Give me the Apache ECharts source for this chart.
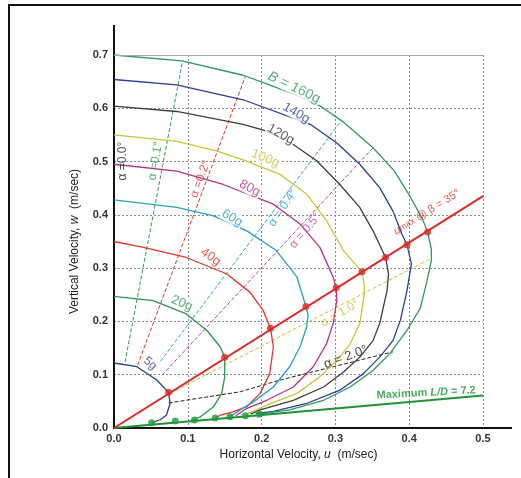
<!DOCTYPE html>
<html>
<head>
<meta charset="utf-8">
<script src="https://cdn.jsdelivr.net/npm/echarts@6/dist/echarts.min.js"></script>
<style>
  html, body { margin: 0; padding: 0; background: #fff; }
  #chart { width: 521px; height: 478px; }
</style>
</head>
<body>
<div id="chart"></div>
<script>
// ballast curves, [u, w] in m/sec
const b5 = [[0, 0.122], [0.031, 0.115], [0.058, 0.090], [0.071, 0.071], [0.074, 0.067], [0.076, 0.046], [0.071, 0.024], [0.062, 0.015], [0.051, 0.010]];
const b20 = [[0, 0.247], [0.053, 0.239], [0.098, 0.214], [0.126, 0.183], [0.144, 0.152], [0.150, 0.133], [0.150, 0.096], [0.146, 0.065], [0.135, 0.040], [0.117, 0.021], [0.107, 0.015]];
const b40 = [[0, 0.350], [0.040, 0.339], [0.098, 0.320], [0.153, 0.289], [0.184, 0.255], [0.202, 0.221], [0.212, 0.187], [0.216, 0.152], [0.211, 0.102], [0.198, 0.065], [0.180, 0.040], [0.160, 0.030], [0.144, 0.024], [0.137, 0.019]];
const b60 = [[0, 0.428], [0.085, 0.414], [0.135, 0.398], [0.180, 0.370], [0.220, 0.333], [0.248, 0.283], [0.260, 0.228], [0.263, 0.212], [0.261, 0.189], [0.252, 0.152], [0.238, 0.115], [0.216, 0.077], [0.189, 0.049], [0.171, 0.034], [0.157, 0.021]];
const b80 = [[0, 0.495], [0.085, 0.482], [0.148, 0.457], [0.216, 0.420], [0.252, 0.383], [0.279, 0.339], [0.297, 0.283], [0.301, 0.263], [0.302, 0.240], [0.297, 0.196], [0.288, 0.158], [0.270, 0.115], [0.243, 0.077], [0.207, 0.052], [0.180, 0.037], [0.165, 0.023]];
const b100 = [[0, 0.550], [0.085, 0.538], [0.139, 0.520], [0.175, 0.503], [0.225, 0.476], [0.261, 0.439], [0.288, 0.389], [0.311, 0.333], [0.336, 0.293], [0.339, 0.270], [0.339, 0.250], [0.333, 0.196], [0.320, 0.158], [0.302, 0.127], [0.279, 0.096], [0.248, 0.065], [0.207, 0.043], [0.178, 0.025]];
const b120 = [[0, 0.604], [0.085, 0.594], [0.175, 0.570], [0.207, 0.557], [0.243, 0.532], [0.275, 0.501], [0.306, 0.457], [0.333, 0.414], [0.351, 0.370], [0.368, 0.320], [0.372, 0.289], [0.370, 0.258], [0.360, 0.196], [0.351, 0.164], [0.333, 0.133], [0.311, 0.105], [0.284, 0.077], [0.243, 0.052], [0.198, 0.034], [0.185, 0.026]];
const b140 = [[0, 0.654], [0.085, 0.644], [0.175, 0.616], [0.266, 0.570], [0.302, 0.535], [0.333, 0.495], [0.360, 0.451], [0.378, 0.407], [0.390, 0.364], [0.397, 0.344], [0.403, 0.308], [0.397, 0.258], [0.388, 0.202], [0.378, 0.164], [0.360, 0.133], [0.338, 0.102], [0.306, 0.071], [0.261, 0.046], [0.216, 0.031], [0.192, 0.027]];
const b160 = [[0, 0.700], [0.092, 0.689], [0.175, 0.662], [0.207, 0.646], [0.245, 0.626], [0.281, 0.603], [0.310, 0.575], [0.351, 0.526], [0.380, 0.482], [0.401, 0.435], [0.418, 0.392], [0.425, 0.368], [0.430, 0.335], [0.430, 0.314], [0.424, 0.275], [0.415, 0.225], [0.397, 0.183], [0.374, 0.140], [0.351, 0.108], [0.320, 0.077], [0.284, 0.052], [0.238, 0.034], [0.197, 0.026]];

// constant angle of attack lines
const a01 = [[0.015, 0.124], [0.093, 0.689]];
const a02 = [[0.032, 0.118], [0.178, 0.660]];
const a04 = [[0.058, 0.116], [0.306, 0.573]];
const a05 = [[0.065, 0.099], [0.351, 0.526]];
const a10 = [[0.076, 0.065], [0.428, 0.317]];
const a20 = [[0.074, 0.047], [0.171, 0.068], [0.225, 0.090], [0.378, 0.143]];

// u max line (beta = 35) and its crossings
const umaxLine = [[0, 0], [0.5, 0.435]];
const umaxPoints = [[0.074, 0.067], [0.150, 0.133], [0.212, 0.187], [0.260, 0.228], [0.301, 0.263], [0.336, 0.293], [0.368, 0.320], [0.397, 0.344], [0.425, 0.368]];

// maximum L/D line and points
const ldLine = [[0, 0], [0.5, 0.061]];
const ldPoints = [[0.051, 0.010], [0.083, 0.013], [0.109, 0.015], [0.137, 0.019], [0.157, 0.021], [0.178, 0.023], [0.197, 0.026]];

const xTicks = [0, 0.1, 0.2, 0.3, 0.4, 0.5];
const yTicks = [0, 0.1, 0.2, 0.3, 0.4, 0.5, 0.6, 0.7];

const chart = echarts.init(document.getElementById('chart'));
const FONT = 'Liberation Sans, Arial, sans-serif';

function curve(data, color, width, dashed) {
  return {
    type: 'line', data: data, showSymbol: false, silent: true,
    smooth: false, clip: false, z: dashed ? 2 : 3,
    lineStyle: { color: color, width: width, type: dashed ? [4, 2] : 'solid', join: 'round' }
  };
}

function note(coord, text, color, rotate, size, extra) {
  return {
    value: coord,
    label: Object.assign({
      show: true, position: 'inside', formatter: text, color: color,
      rotate: rotate, fontSize: size, fontFamily: FONT
    }, extra || {})
  };
}

const bg = { backgroundColor: '#fff', padding: [0, 1] };

const notes = [
  note([0.244, 0.639], '{i|B} = 160g', '#2f9a5e', -26, 14, Object.assign({ rich: { i: { fontStyle: 'italic', fontSize: 14, color: '#2f9a5e', fontFamily: FONT } } }, bg)),
  note([0.247, 0.591], '140g', '#2b3d9c', -30, 13, bg),
  note([0.226, 0.551], '120g', '#333333', -30, 13, bg),
  note([0.205, 0.506], '100g', '#c9c63a', -22, 13, bg),
  note([0.184, 0.450], '80g', '#b3338a', -28, 13, bg),
  note([0.160, 0.394], '60g', '#24a2c6', -30, 13, bg),
  note([0.131, 0.321], '40g', '#e0362e', -35, 13, bg),
  note([0.092, 0.234], '20g', '#2e9552', -22, 13, bg),
  note([0.049, 0.121], '5g', '#2b3a92', -40, 12, bg),
  note([0.012, 0.501], 'α =0.0°', '#222222', 90, 12),
  note([0.056, 0.501], 'α =0.1°', '#2e9a4e', 80, 12),
  note([0.117, 0.467], 'α =0.2°', '#e0302a', 70, 12),
  note([0.229, 0.413], 'α = 0.4°', '#22a6cf', 56, 12),
  note([0.259, 0.370], 'α = 0.5°', '#b6449c', 50, 12),
  note([0.306, 0.215], 'α = 1.0°', '#c9c23a', 30, 12),
  note([0.314, 0.133], 'α = 2.0°', '#222222', 20, 13),
  note([0.424, 0.405], '{i|u}{s|max} @ β = 35°', '#d92b25', 32, 11, {
    rich: {
      i: { fontStyle: 'italic', fontSize: 11, color: '#d92b25', fontFamily: FONT },
      s: { fontSize: 9, color: '#d92b25', fontFamily: FONT }
    }
  }),
  note([0.423, 0.066], 'Maximum {i|L/D} = 7.2', '#1f9238', 3, 11, {
    fontWeight: 'bold',
    rich: { i: { fontStyle: 'italic', fontWeight: 'bold', fontSize: 11, color: '#1f9238', fontFamily: FONT } }
  })
];

const series = [
  curve(a01, '#2e9a4e', 1, true),
  curve(a02, '#e0302a', 1, true),
  curve(a04, '#22a6cf', 1, true),
  curve(a05, '#b6449c', 1, true),
  curve(a10, '#c9c23a', 1, true),
  curve(a20, '#222222', 1, true),
  curve(b5, '#2b3a92', 1.3),
  curve(b20, '#2e9552', 1.3),
  curve(b40, '#e0362e', 1.3),
  curve(b60, '#24a2c6', 1.3),
  curve(b80, '#b3338a', 1.3),
  curve(b100, '#c9c63a', 1.3),
  curve(b120, '#3d3d3d', 1.3),
  curve(b140, '#2b3d9c', 1.3),
  curve(b160, '#2f9a5e', 1.3),
  Object.assign(curve(ldLine, '#1f9238', 2), { z: 4,
    markLine: {
      silent: true, symbol: 'none', label: { show: false },
      lineStyle: { color: '#aaaaaa', type: 'solid', width: 1 },
      data: [{ yAxis: 0.7 }]
    }
  }),
  Object.assign(curve(umaxLine, '#d92b25', 2), { z: 4 }),
  {
    type: 'scatter', data: umaxPoints, symbolSize: 7, z: 5, silent: true,
    itemStyle: { color: '#d92b25' }
  },
  {
    type: 'scatter', data: ldPoints, symbolSize: 7, z: 5, silent: true,
    itemStyle: { color: '#1f9a3a' }
  },
  {
    type: 'scatter', data: notes, symbolSize: 0, z: 6, silent: true, clip: false
  }
];

chart.setOption({
  animation: false,
  backgroundColor: '#ffffff',
  grid: { left: 114, right: 38, top: 55, bottom: 50 },
  xAxis: {
    type: 'value', min: xTicks[0], max: xTicks[xTicks.length - 1], interval: 0.1,
    name: 'Horizontal Velocity, {i|u}  (m/sec)', nameLocation: 'middle', nameGap: 17,
    nameTextStyle: {
      color: '#222', fontSize: 12, fontFamily: FONT,
      rich: { i: { fontStyle: 'italic', fontSize: 12, color: '#222', fontFamily: FONT } }
    },
    axisLine: { lineStyle: { color: '#111', width: 2 } },
    axisTick: { show: false },
    axisLabel: { color: '#333', fontSize: 11, fontWeight: 'bold', fontFamily: FONT, margin: 5,
      formatter: v => v.toFixed(1) },
    splitLine: { lineStyle: { color: '#8a8a8a', type: [2, 2], width: 1 } }
  },
  yAxis: {
    type: 'value', min: yTicks[0], max: yTicks[yTicks.length - 1], interval: 0.1,
    name: 'Vertical Velocity, {i|w}  (m/sec)', nameLocation: 'middle', nameGap: 33,
    nameTextStyle: {
      color: '#222', fontSize: 12, fontFamily: FONT,
      rich: { i: { fontStyle: 'italic', fontSize: 12, color: '#222', fontFamily: FONT } }
    },
    axisLine: { lineStyle: { color: '#111', width: 2 } },
    axisTick: { show: false },
    axisLabel: { color: '#333', fontSize: 11, fontWeight: 'bold', fontFamily: FONT, margin: 6,
      formatter: v => v.toFixed(1) },
    splitLine: { lineStyle: { color: '#8a8a8a', type: [2, 2], width: 1 } }
  },
  graphic: [
    { type: 'rect', shape: { x: 9, y: 5, width: 540, height: 500 },
      style: { fill: 'none', stroke: '#111', lineWidth: 2 }, silent: true },
    { type: 'line', shape: { x1: 114, y1: 25, x2: 114, y2: 56 },
      style: { stroke: '#111', lineWidth: 2 }, silent: true },
    { type: 'line', shape: { x1: 482, y1: 428, x2: 512, y2: 428 },
      style: { stroke: '#111', lineWidth: 2 }, silent: true }
  ],
  series: series
});
</script>
</body>
</html>
